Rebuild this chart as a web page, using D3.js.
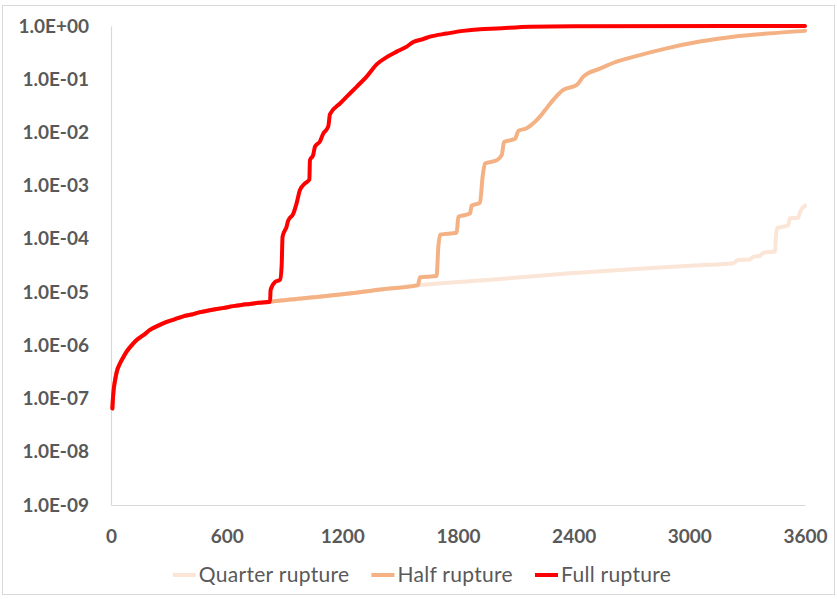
<!DOCTYPE html>
<html>
<head>
<meta charset="utf-8">
<script src="https://cdn.jsdelivr.net/npm/d3@7/dist/d3.min.js"></script>
<style>
  html, body { margin: 0; padding: 0; background: #ffffff; }
  svg { display: block; }
  text { font-family: Lato, "Open Sans", sans-serif; }
</style>
</head>
<body>
<svg id="chart" width="837" height="599"></svg>
<script>
// Cumulative rupture probability over time (seconds), log scale.

// Shared early-time curve (all three series follow it until they branch off)
const baseTime  = [7, 12, 21, 30, 47, 64, 81, 107, 133, 168, 202, 245, 289, 332, 375, 419, 462, 505, 548, 591, 635, 678, 721, 764, 825, 1000, 1200, 1400, 1592, 2000, 2364, 2700, 3055, 3228];
const baseValue = [6.5e-8, 1.26e-7, 2.2e-7, 3.2e-7, 4.6e-7, 6.0e-7, 7.6e-7, 1.0e-6, 1.26e-6, 1.55e-6, 1.95e-6, 2.35e-6, 2.75e-6, 3.1e-6, 3.5e-6, 3.8e-6, 4.2e-6, 4.5e-6, 4.8e-6, 5.1e-6, 5.45e-6, 5.75e-6, 6.0e-6, 6.3e-6, 6.6e-6, 7.7e-6, 9.1e-6, 1.12e-5, 1.35e-5, 1.74e-5, 2.24e-5, 2.7e-5, 3.2e-5, 3.5e-5];

// Quarter rupture: branch after 3228 s
const quarterTime  = [3254, 3314, 3332, 3366, 3384, 3444, 3449, 3456, 3513, 3522, 3565, 3574, 3600];
const quarterValue = [4.0e-5, 4.1e-5, 4.6e-5, 4.8e-5, 5.5e-5, 5.8e-5, 1.1e-4, 1.6e-4, 1.8e-4, 2.45e-4, 2.5e-4, 3.2e-4, 4.2e-4];

// Half rupture: branch after 1592 s
const halfTime  = [1603, 1689, 1698, 1707, 1793, 1802, 1862, 1871, 1914, 1928, 1940, 2001, 2027, 2039, 2096, 2113, 2156, 2208, 2251, 2294, 2346, 2416, 2450, 2536, 2623, 2709, 2882, 3055, 3228, 3401, 3600];
const halfValue = [1.9e-5, 2.0e-5, 7.1e-5, 1.2e-4, 1.3e-4, 2.6e-4, 3.0e-4, 4.2e-4, 4.8e-4, 1.5e-3, 2.6e-3, 3.0e-3, 3.8e-3, 6.6e-3, 7.6e-3, 1.07e-2, 1.2e-2, 1.7e-2, 2.6e-2, 4.1e-2, 6.3e-2, 7.8e-2, 0.112, 0.158, 0.214, 0.263, 0.38, 0.51, 0.63, 0.72, 0.81];

// Full rupture: branch after 825 s
const fullTime  = [828, 851, 877, 885, 890, 911, 919, 946, 963, 980, 1006, 1029, 1032, 1049, 1058, 1084, 1101, 1127, 1136, 1188, 1223, 1274, 1326, 1378, 1430, 1482, 1534, 1568, 1620, 1655, 1741, 1827, 1914, 2001, 2173, 2400, 3600];
const fullValue = [1.1e-5, 1.55e-5, 1.7e-5, 3.0e-5, 1.1e-4, 1.7e-4, 2.2e-4, 3.0e-4, 4.7e-4, 8.3e-4, 1.1e-3, 1.3e-3, 3.0e-3, 3.8e-3, 5.4e-3, 6.8e-3, 9.5e-3, 1.3e-2, 2.2e-2, 3.5e-2, 4.7e-2, 7.2e-2, 0.112, 0.19, 0.26, 0.33, 0.41, 0.50, 0.57, 0.63, 0.72, 0.81, 0.87, 0.90, 0.97, 0.99, 1.0];

const seriesNames  = ["Quarter rupture", "Half rupture", "Full rupture"];
const seriesColors = ["#FBE5D6", "#F4B183", "#FF0000"];
const xTicks = [0, 600, 1200, 1800, 2400, 3000, 3600];
const yTicks = [1, 1e-1, 1e-2, 1e-3, 1e-4, 1e-5, 1e-6, 1e-7, 1e-8, 1e-9];

function zipPts(ts, vs) { return ts.map((t, i) => ({ t: t, v: vs[i] })); }
function baseUntil(tMax) { return zipPts(baseTime, baseValue).filter(d => d.t <= tMax); }

const series = [
  baseUntil(3228).concat(zipPts(quarterTime, quarterValue)),
  baseUntil(1592).concat(zipPts(halfTime, halfValue)),
  baseUntil(825).concat(zipPts(fullTime, fullValue))
];

const svg = d3.select("#chart");
const W = 837, H = 599;
const margin = { left: 111, right: 32, top: 26, bottom: 94 };

// outer chart frame
svg.append("rect")
  .attr("x", 2.5).attr("y", 5.5)
  .attr("width", W - 5).attr("height", H - 10)
  .attr("fill", "#ffffff").attr("stroke", "#d9d9d9").attr("stroke-width", 1);

const x = d3.scaleLinear().domain([0, 3600]).range([margin.left, W - margin.right]);
const y = d3.scaleLog().domain([1e-9, 1]).range([H - margin.bottom, margin.top]);

function fmtExp(v) {
  const e = Math.round(Math.log10(v));
  return "1.0E" + (e >= 0 ? "+" : "-") + String(Math.abs(e)).padStart(2, "0");
}

const yAxis = svg.append("g")
  .attr("transform", `translate(${margin.left},0)`)
  .call(d3.axisLeft(y).tickValues(yTicks).tickFormat(fmtExp).tickSize(0).tickPadding(22));
const xAxis = svg.append("g")
  .attr("transform", `translate(0,${H - margin.bottom})`)
  .call(d3.axisBottom(x).tickValues(xTicks).tickFormat(d3.format("d")).tickSize(0).tickPadding(25));

[yAxis, xAxis].forEach(g => {
  g.select(".domain").attr("stroke", "#d9d9d9").attr("stroke-width", 1.2);
  g.selectAll("text")
    .attr("fill", "#595959")
    .style("font-family", "Lato, sans-serif")
    .style("font-weight", "700")
    .style("font-size", "19px");
});

const line = d3.line().x(d => x(d.t)).y(d => y(d.v)).curve(d3.curveMonotoneX);

svg.append("g").selectAll("path")
  .data(series)
  .join("path")
  .attr("d", line)
  .attr("fill", "none")
  .attr("stroke", (d, i) => seriesColors[i])
  .attr("stroke-width", 4)
  .attr("stroke-linejoin", "round")
  .attr("stroke-linecap", "round");

// legend centred under the plot
const legend = svg.append("g");
let cursor = 0;
seriesNames.forEach((name, i) => {
  const g = legend.append("g");
  g.append("line").attr("x1", 0).attr("x2", 23).attr("y1", 0).attr("y2", 0)
    .attr("stroke", seriesColors[i]).attr("stroke-width", 4);
  const t = g.append("text").attr("x", 26).attr("y", 0).attr("dy", "0.35em")
    .attr("fill", "#595959").style("font-size", "21px").style("letter-spacing", "0.3px").text(name);
  const w = 26 + t.node().getComputedTextLength();
  g.attr("transform", `translate(${cursor},0)`);
  cursor += w + 22;
});
const totalW = cursor - 22;
legend.attr("transform", `translate(${422 - totalW / 2},575)`);
</script>
</body>
</html>
